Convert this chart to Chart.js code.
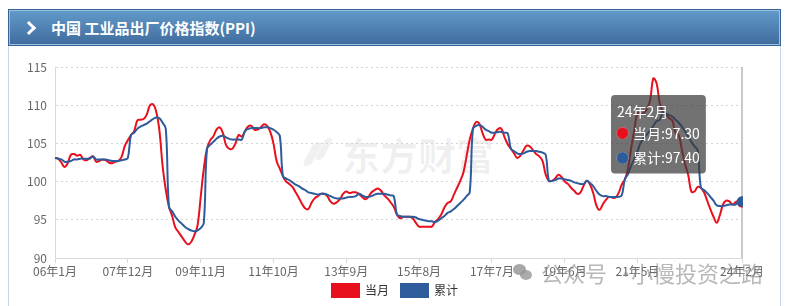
<!DOCTYPE html>
<html>
<head>
<meta charset="utf-8">
<script src="https://cdn.jsdelivr.net/npm/chart.js@4.4.1/dist/chart.umd.min.js"></script>
<style>
  html, body { margin: 0; padding: 0; background: #fff; width: 792px; height: 306px; overflow: hidden; }
  body { position: relative; font-family: "Noto Sans CJK SC", "Noto Sans", sans-serif; }
  #head {
    position: absolute; left: 8px; top: 9px; width: 771px; height: 35px;
    border: 1px solid #36639a;
    box-shadow: inset 0 0 0 1px #9cc0e0;
    background: linear-gradient(#629bca, #3f6b9d);
    color: #fff; font-weight: bold; font-size: 15px; line-height: 35px;
  }
  #head .arr {
    position: absolute; left: 15px; top: 13px; width: 7px; height: 7px;
    border-top: 3px solid #fff; border-right: 3px solid #fff; transform: rotate(45deg);
  }
  #head .txt { position: absolute; left: 42px; top: 0; }
  #panel { position: absolute; left: 8px; top: 46px; width: 771px; height: 262px;
    border-left: 1px solid #c2d8ec; border-right: 1px solid #c2d8ec; }
  #wrap { position: absolute; left: 9px; top: 47px; width: 756px; height: 259px; }
  #mark1 { position: absolute; left: 342px; top: 128px; font-size: 38px; line-height: 52px; font-weight: bold;
    color: rgba(0,0,0,0.06); white-space: nowrap; }
  #logo i { position: absolute; background: rgba(0,0,0,0.06); border-radius: 6px; transform: skewX(-28deg); }
  .wm { position: absolute; top: 258px; font-size: 22px; line-height: 28px; color: rgba(140,140,140,0.62);
    white-space: nowrap; }
  #wx { position: absolute; left: 513px; top: 264px; width: 20px; height: 18px; }
  #wx i { position: absolute; border-radius: 50%; background: rgba(130,130,130,0.7); }
</style>
</head>
<body>
<div id="head"><span class="arr"></span><span class="txt">中国 工业品出厂价格指数(PPI)</span></div>
<div id="panel"></div>
<div id="logo"><i style="left:308px;top:142px;width:9px;height:24px"></i><i style="left:320px;top:138px;width:8px;height:22px"></i></div>
<div id="mark1">东方财富</div>
<div id="wrap"><canvas id="chart" width="756" height="259"></canvas></div>
<div id="wx"><i style="left:0;top:0;width:13px;height:11px"></i><i style="left:7px;top:6px;width:12px;height:10px;background:rgba(150,150,150,0.8)"></i></div>
<div class="wm" style="left:541px">公众号</div>
<div class="wm" style="left:615px">·</div>
<div class="wm" style="left:631px">小慢投资之路</div>
<script>
// 当月同比 (上年同月=100)
let ppiMonth = [
  103.1, 103.0, 102.5, 101.9, 102.4, 103.5, 103.6, 103.4, 103.5, 102.9, 102.8, 103.1, // 2006
  103.3, 102.6, 102.7, 102.9, 102.8, 102.5, 102.4, 102.6, 102.7, 103.2, 104.6, 105.4, // 2007
  106.1, 106.6, 108.0, 108.1, 108.2, 108.8, 110.0, 110.1, 109.1, 106.6, 102.0, 98.9,  // 2008
  96.7, 95.5, 94.0, 93.4, 92.8, 92.2, 91.8, 92.1, 93.0, 94.2, 97.9, 101.7,           // 2009
  104.3, 105.4, 105.9, 106.8, 107.1, 106.4, 104.8, 104.3, 104.3, 105.0, 106.1, 105.9, // 2010
  106.6, 107.2, 107.3, 106.8, 106.8, 107.1, 107.5, 107.3, 106.5, 105.0, 102.7, 101.7, // 2011
  100.7, 100.0, 99.7, 99.3, 98.6, 97.9, 97.1, 96.5, 96.4, 97.2, 97.8, 98.1,           // 2012
  98.4, 98.4, 98.1, 97.4, 97.1, 97.3, 97.7, 98.4, 98.7, 98.5, 98.6, 98.6,             // 2013
  98.4, 98.0, 97.7, 98.0, 98.6, 98.9, 99.1, 98.8, 98.2, 97.8, 97.3, 96.7,             // 2014
  95.7, 95.2, 95.4, 95.4, 95.4, 95.2, 94.6, 94.1, 94.1, 94.1, 94.1, 94.1,             // 2015
  94.7, 95.1, 95.7, 96.6, 97.2, 97.4, 98.3, 99.2, 100.1, 101.2, 103.3, 105.5,         // 2016
  106.9, 107.8, 107.6, 106.4, 105.5, 105.5, 105.5, 106.3, 106.9, 106.9, 105.8, 104.9, // 2017
  104.3, 103.7, 103.1, 103.4, 104.1, 104.7, 104.6, 104.1, 103.6, 103.3, 102.7, 100.9, // 2018
  100.1, 100.1, 100.4, 100.9, 100.6, 100.0, 99.7, 99.2, 98.8, 98.4, 98.6, 99.5,       // 2019
  100.1, 99.6, 98.5, 96.9, 96.3, 97.0, 97.6, 98.0, 97.9, 97.9, 98.5, 99.6,            // 2020
  100.3, 101.7, 104.4, 106.8, 109.0, 108.8, 109.0, 109.5, 110.7, 113.5, 112.9, 110.3, // 2021
  109.1, 108.8, 108.3, 108.0, 106.4, 106.1, 104.2, 102.3, 100.9, 98.7, 98.7, 99.3,    // 2022
  99.2, 98.6, 97.5, 96.4, 95.4, 94.6, 95.6, 97.0, 97.5, 97.4, 97.0, 97.3,             // 2023
  97.5, 97.3                                                                           // 2024
];
// 累计同比
let ppiYtd = [
  103.1, 103.0, 102.9, 102.6, 102.6, 102.7, 102.9, 102.9, 103.0, 103.0, 103.0, 103.0, // 2006
  103.3, 102.9, 102.9, 102.9, 102.9, 102.8, 102.7, 102.7, 102.7, 102.8, 102.9, 103.1, // 2007
  106.1, 106.4, 106.9, 107.2, 107.4, 107.6, 107.9, 108.2, 108.4, 108.3, 107.7, 106.9, // 2008
  96.7, 96.1, 95.4, 94.9, 94.5, 94.1, 93.8, 93.6, 93.5, 93.6, 93.9, 94.6,             // 2009
  104.3, 104.8, 105.2, 105.6, 105.9, 106.0, 105.8, 105.6, 105.5, 105.5, 105.5, 105.5, // 2010
  106.6, 106.9, 107.0, 107.0, 107.0, 107.0, 107.1, 107.1, 107.0, 106.8, 106.5, 106.0, // 2011
  100.7, 100.4, 100.2, 99.9, 99.6, 99.4, 99.1, 98.9, 98.6, 98.5, 98.4, 98.3,          // 2012
  98.4, 98.4, 98.3, 98.1, 97.9, 97.8, 97.8, 97.8, 97.9, 98.0, 98.0, 98.1,             // 2013
  98.4, 98.2, 98.0, 98.0, 98.1, 98.3, 98.4, 98.4, 98.4, 98.3, 98.2, 98.1,             // 2014
  95.7, 95.5, 95.4, 95.4, 95.4, 95.4, 95.3, 95.1, 95.0, 94.9, 94.8, 94.8,             // 2015
  94.7, 94.9, 95.2, 95.5, 95.9, 96.1, 96.4, 96.8, 97.2, 97.6, 98.1, 98.6,             // 2016
  106.9, 107.3, 107.4, 107.2, 106.8, 106.6, 106.4, 106.4, 106.5, 106.5, 106.4, 106.3, // 2017
  104.3, 104.0, 103.7, 103.6, 103.7, 103.9, 104.0, 104.0, 104.0, 103.9, 103.8, 103.5, // 2018
  100.1, 100.1, 100.2, 100.4, 100.4, 100.3, 100.2, 100.1, 99.9, 99.8, 99.7, 99.7,     // 2019
  100.1, 99.8, 99.4, 98.8, 98.3, 98.1, 98.1, 98.0, 98.0, 98.0, 98.0, 98.2,            // 2020
  100.3, 101.0, 102.1, 103.0, 104.0, 105.1, 105.7, 106.2, 106.7, 107.3, 107.9, 108.1, // 2021
  109.1, 108.9, 108.7, 108.5, 108.1, 107.7, 107.2, 106.6, 105.9, 105.2, 104.6, 104.1, // 2022
  99.2, 98.9, 98.5, 98.0, 97.5, 96.9, 96.8, 96.8, 96.9, 97.0, 97.0, 97.0,             // 2023
  97.5, 97.4                                                                           // 2024
];

// 06年1月 ... 24年2月
let months = [];
for (let y = 2006; y <= 2024; y++) {
  for (let m = 1; m <= 12; m++) {
    if (y === 2024 && m > 2) break;
    months.push(String(y % 100).padStart(2, '0') + '年' + m + '月');
  }
}
let yTicks = [90, 95, 100, 105, 110, 115];
let labelStep = 23;

const last = months.length - 1;
const font = "'Noto Sans CJK SC', 'Noto Sans', sans-serif";
const red = '#e8101c';
const blue = '#2d5b9b';

Chart.Tooltip.positioners.fixed = function(items) {
  if (!items.length) return false;
  const area = this.chart.chartArea;
  return { x: items[0].element.x - 127, y: area.top + 28 };
};

const pointerLine = {
  id: 'pointerLine',
  beforeDatasetsDraw(chart) {
    const act = chart.getActiveElements();
    if (!act.length) return;
    const ctx = chart.ctx, a = chart.chartArea;
    ctx.save();
    ctx.strokeStyle = '#b8b8b8';
    ctx.lineWidth = 1.5;
    ctx.beginPath();
    ctx.moveTo(act[0].element.x, a.top);
    ctx.lineTo(act[0].element.x, a.bottom);
    ctx.stroke();
    ctx.restore();
  }
};

// legend sits partly over the x label band, as in the original
const legendShift = {
  id: 'legendShift',
  afterLayout(chart) {
    chart.legend.top -= 7;
    chart.legend.bottom -= 7;
  }
};

let chart = new Chart(document.getElementById('chart'), {
  type: 'line',
  data: {
    labels: months,
    datasets: [
      { label: '当月', data: ppiMonth, borderColor: red, backgroundColor: red, borderWidth: 2,
        tension: 0.4, pointRadius: 0, pointHoverRadius: 4.5, pointHoverBorderWidth: 1.5,
        pointHoverBackgroundColor: red, pointHoverBorderColor: red, order: 1 },
      { label: '累计', data: ppiYtd, borderColor: blue, backgroundColor: blue, borderWidth: 2,
        tension: 0.4, pointRadius: 0, pointHoverRadius: 4.5, pointHoverBorderWidth: 1.5,
        pointHoverBackgroundColor: blue, pointHoverBorderColor: blue, order: 0 }
    ]
  },
  options: {
    responsive: false,
    animation: false,
    layout: { padding: { top: 20, right: 0, left: 16, bottom: -8 } },
    interaction: { mode: 'index', intersect: false },
    scales: {
      x: {
        offset: false,
        grid: { drawOnChartArea: false, drawTicks: true, tickLength: 5, color: '#d9d9d9' },
        border: { color: '#d9d9d9' },
        ticks: {
          autoSkip: false, maxRotation: 0, color: '#666', padding: 1,
          font: { size: 12, family: font },
          callback: function(v, i) {
            if (i === last || (i % labelStep === 0 && last - i > labelStep / 2)) return this.getLabelForValue(v);
            return null;
          }
        },
        afterFit: s => { s.height = 21; }
      },
      y: {
        min: yTicks[0], max: yTicks[yTicks.length - 1],
        afterBuildTicks: s => { s.ticks = yTicks.map(v => ({ value: v })); },
        grid: { color: '#d4d4d4', drawTicks: false },
        border: { display: true, color: '#d9d9d9', dash: [2, 3] },
        ticks: { color: '#666', padding: 8, font: { size: 12, family: font } },
        afterFit: s => { s.width = 30; }
      }
    },
    plugins: {
      legend: {
        position: 'bottom', reverse: true,
        labels: { boxWidth: 27, boxHeight: 13, padding: 12, color: '#333', font: { size: 12, family: font } }
      },
      tooltip: {
        position: 'fixed', xAlign: 'left', yAlign: 'top',
        caretSize: 0, caretPadding: 0, cornerRadius: 4,
        backgroundColor: 'rgba(60,60,60,0.72)',
        padding: { top: 8, bottom: 7, left: 6, right: 6 },
        titleFont: { size: 14, weight: 'normal', family: font },
        bodyFont: { size: 14, family: font },
        titleMarginBottom: 5, bodySpacing: 8,
        usePointStyle: true, boxWidth: 11, boxHeight: 11, boxPadding: 3,
        itemSort: (a, b) => a.datasetIndex - b.datasetIndex,
        callbacks: {
          label: c => c.dataset.label + ':' + c.parsed.y.toFixed(2),
          labelColor: c => ({ borderColor: c.dataset.borderColor, backgroundColor: c.dataset.borderColor })
        }
      }
    }
  },
  plugins: [pointerLine, legendShift]
});

const act = [{ datasetIndex: 0, index: last }, { datasetIndex: 1, index: last }];
chart.setActiveElements(act);
chart.tooltip.setActiveElements(act, { x: 0, y: 0 });
chart.update('none');
</script>
</body>
</html>
